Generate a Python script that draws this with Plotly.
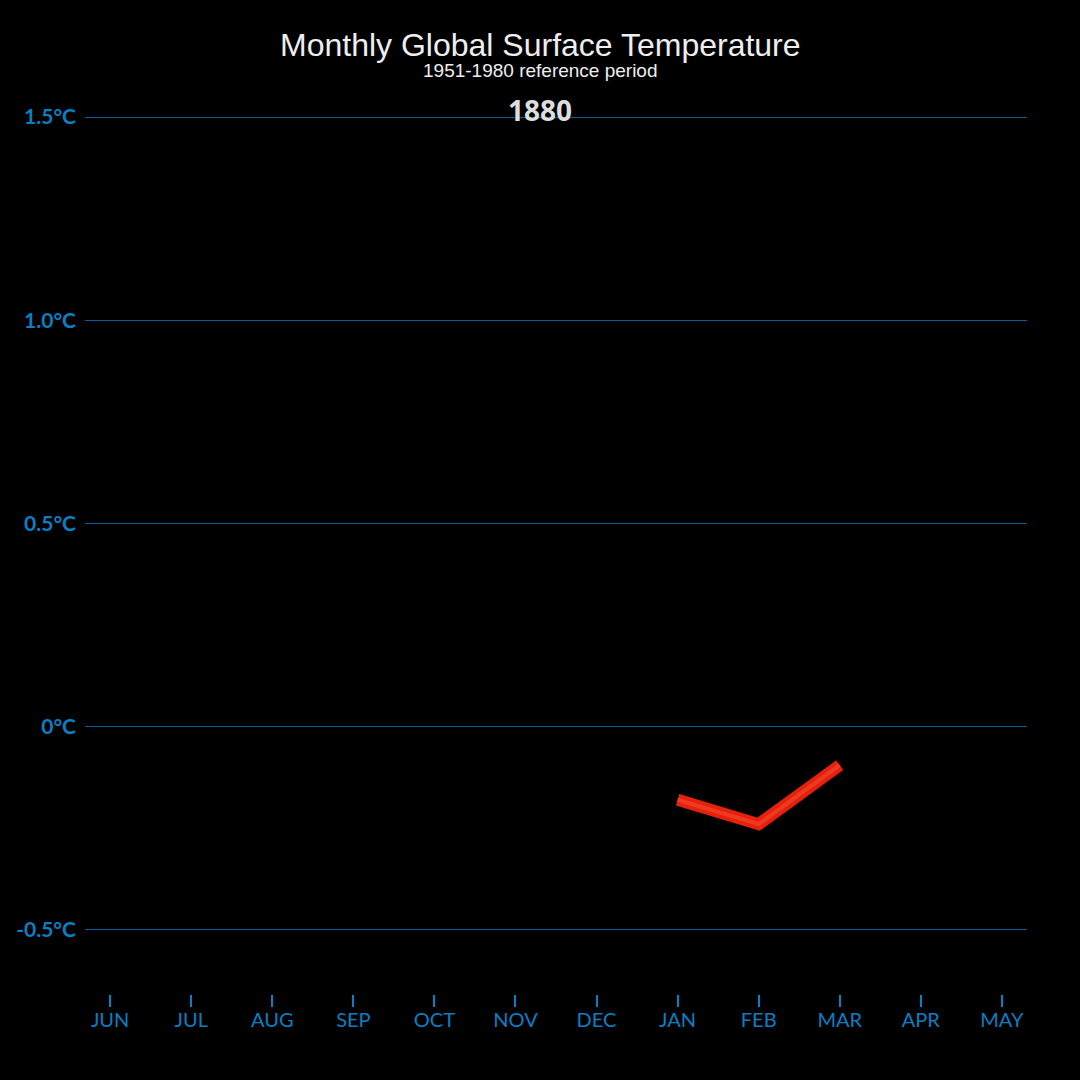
import plotly.graph_objects as go

months = ["JUN", "JUL", "AUG", "SEP", "OCT", "NOV", "DEC", "JAN", "FEB", "MAR", "APR", "MAY"]
series_months = ["JAN", "FEB", "MAR"]
series_values = [-0.18, -0.24, -0.095]
y_tick_vals = [-0.5, 0, 0.5, 1.0, 1.5]
y_tick_text = ["-0.5°C", "0°C", "0.5°C", "1.0°C", "1.5°C"]
year_label = "1880"
title_text = "Monthly Global Surface Temperature"
subtitle_text = "1951-1980 reference period"

axis_color = "#0a7fc2"
grid_color = "#0b5d93"

xs = [months.index(m) for m in series_months]

fig = go.Figure()
fig.add_trace(go.Scatter(
    x=xs, y=series_values, mode="lines",
    line=dict(color="#e5210b", width=12),
    hoverinfo="skip", showlegend=False,
))
fig.add_trace(go.Scatter(
    x=xs, y=series_values, mode="lines",
    line=dict(color="#ee3a22", width=4),
    hoverinfo="skip", showlegend=False,
))

W, H = 1080, 1080
ML, MR, MT, MB = 85, 53, 100, 86

fig.update_layout(
    width=W, height=H,
    paper_bgcolor="black", plot_bgcolor="black",
    margin=dict(l=ML, r=MR, t=MT, b=MB),
    xaxis=dict(
        range=[-0.31, 11.31],
        tickmode="array", tickvals=list(range(len(months))), ticktext=months,
        showgrid=False, zeroline=False, showline=False,
        ticks="outside", ticklen=12, tickwidth=1.5, tickcolor=axis_color,
        ticklabelstandoff=-4,
        tickfont=dict(family="Lato", size=20, color=axis_color),
        fixedrange=True,
    ),
    yaxis=dict(
        range=[-0.658, 1.542],
        tickmode="array", tickvals=y_tick_vals, ticktext=y_tick_text,
        showgrid=True, gridcolor=grid_color, gridwidth=1.2,
        zeroline=False, showline=False, ticks="",
        ticklabelstandoff=8,
        tickfont=dict(family="Lato", size=21, color=axis_color, weight="bold"),
        fixedrange=True,
    ),
)

plot_h = H - MT - MB
plot_w = W - ML - MR
def py(pix):
    return (H - MB - pix) / plot_h

cx = (540 - ML) / plot_w
fig.add_annotation(text=title_text, x=cx, y=py(45), xref="paper", yref="paper",
                   showarrow=False, xanchor="center", yanchor="middle",
                   font=dict(family="Liberation Sans", size=32, color="#eeeeee"))
fig.add_annotation(text=subtitle_text, x=cx, y=py(71), xref="paper", yref="paper",
                   showarrow=False, xanchor="center", yanchor="middle",
                   font=dict(family="Liberation Sans", size=19, color="#eeeeee"))
fig.add_annotation(text="<b>" + year_label + "</b>", x=cx, y=py(110), xref="paper", yref="paper",
                   showarrow=False, xanchor="center", yanchor="middle",
                   font=dict(family="Open Sans", size=28, color="#dddddd"))

fig.write_html(
    "out.html",
    config={"displayModeBar": False},
    post_script="document.body.style.margin='0';document.body.style.background='black';",
)
